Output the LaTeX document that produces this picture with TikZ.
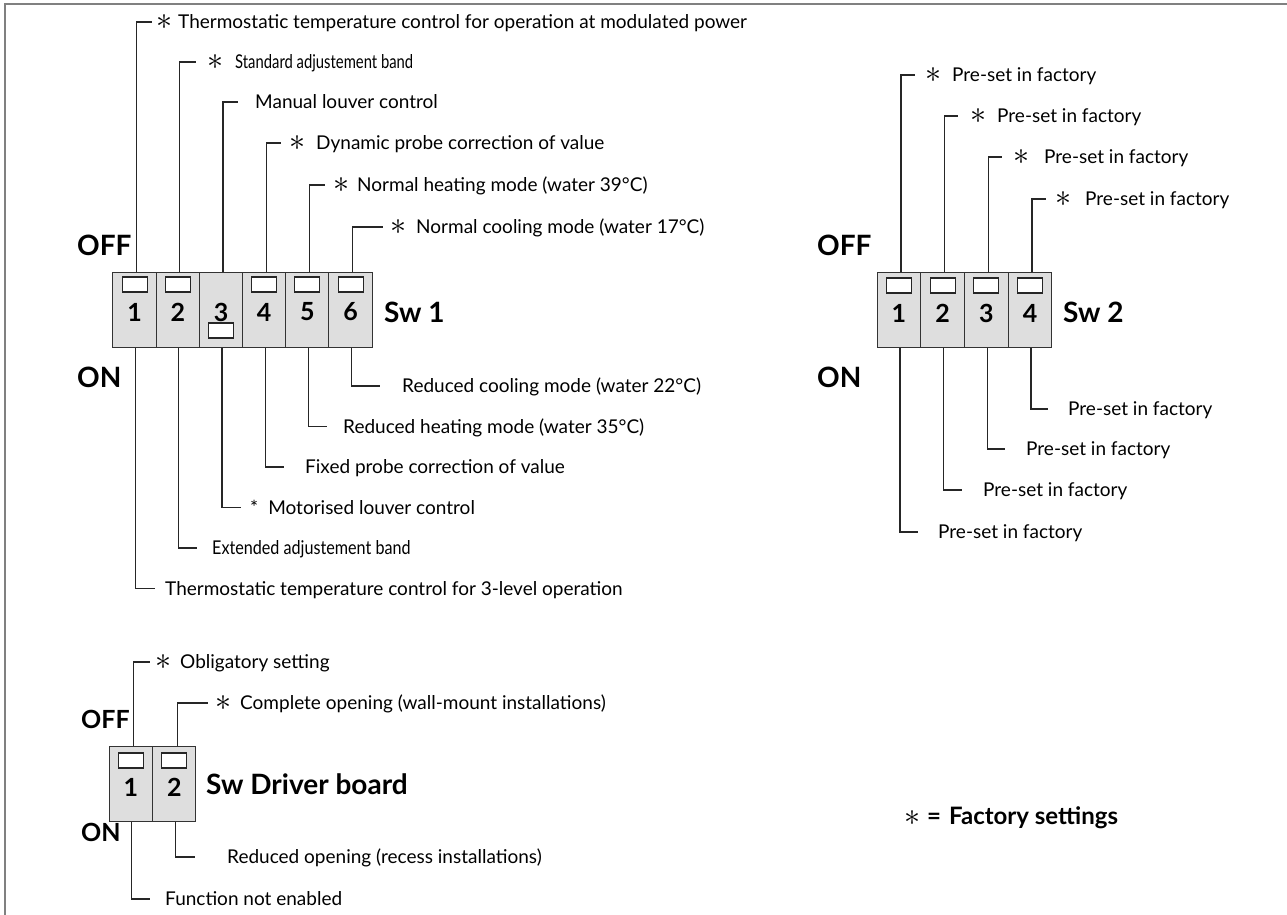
\documentclass[tikz,border=0pt]{standalone}
\usepackage{fontspec}
\usepackage{graphicx}
\setmainfont{Lato}
\usetikzlibrary{positioning}

% factory mark: space, star, space
\newcommand\fac[2]{\hspace{#1pt}\raisebox{-1pt}{\resizebox{16pt}{!}{$\ast$}}\hspace{#2pt}}

\begin{document}
\begin{tikzpicture}[x=1pt,y=-1pt,
    wire/.style={line width=1.3pt, black!85},
    cell/.style={draw=black!80, line width=1pt, fill=black!13, minimum width=43.4pt, minimum height=75pt, inner sep=0},
    lever/.style={draw=black!85, line width=1.1pt, fill=white, minimum width=25pt, minimum height=15pt, inner sep=0},
    num/.style={font=\fontsize{25}{25}\selectfont\bfseries, inner sep=0},
    lbl/.style={anchor=west, inner sep=0, text height=13.5pt, text depth=0pt, font=\fontsize{19}{21}\selectfont},
    head/.style={anchor=west, inner sep=0, font=\fontsize{28}{28}\selectfont\bfseries}]
    \useasboundingbox (0,0) rectangle (1287,915);
    \draw[black!50, line width=2pt] (5,915) -- (5,4) -- (1287,4);

    % Sw 1
    \foreach \i in {1,...,6} {
        \node[cell] (a\i) at ({113+43.2*(\i-0.5)},309.5) {};
        \node[num] (an\i) at ({113+43.2*(\i-0.5)},312) {\i};
    }
    \foreach \i in {1,2,4,5,6}
        \node[lever] (ak\i) at ({113+43.2*(\i-0.5)},284.5) {};
    \node[lever] (ak3) at (221,330.5) {};
    \node[head] (sw1) at (384,312) {Sw 1};
    \node[head] (off1) at (77,245) {OFF};
    \node[head] (on1) at (77,377) {ON};

    \node[lbl] (o1) at (152,22) {\fac{4}{6}Thermostatic temperature control for operation at modulated power};
    \node[lbl] (o2) at (196,62) {\fac{11}{12}\scalebox{0.78}[1]{Standard adjustement band}};
    \node[lbl] (o3) at (238,102) {\hspace{17pt}Manual louver control};
    \node[lbl] (o4) at (281,143) {\fac{8}{11}Dynamic probe correction of value};
    \node[lbl] (o5) at (325,185) {\fac{8}{8}Normal heating mode (water 39°C)};
    \node[lbl] (o6) at (383,227) {\fac{7}{10}Normal cooling mode (water 17°C)};
    \foreach \i in {1,...,6}
        \draw[wire] ([xshift=2pt]a\i.north) |- (o\i.west);

    \node[lbl] (u6) at (380,386) {\hspace{22pt}Reduced cooling mode (water 22°C)};
    \node[lbl] (u5) at (327,426.5) {\hspace{16pt}Reduced heating mode (water 35°C)};
    \node[lbl] (u4) at (284,467) {\hspace{21pt}Fixed probe correction of value};
    \node[lbl] (u3) at (241,507.5) {\hspace{9pt}*\hspace{10pt}Motorised louver control};
    \node[lbl] (u2) at (197,548) {\hspace{15pt}\scalebox{0.85}[1]{Extended adjustement band}};
    \node[lbl] (u1) at (155,588.5) {\hspace{10pt}Thermostatic temperature control for 3-level operation};
    \foreach \i in {1,...,6}
        \draw[wire] ([xshift=1pt]a\i.south) |- (u\i.west);

    % Sw 2
    \foreach \i in {1,...,4} {
        \node[cell] (b\i) at ({877+43.75*(\i-0.5)},309.5) {};
        \node[num] (bn\i) at ({877+43.75*(\i-0.5)},313) {\i};
        \node[lever] (bk\i) at ({877+43.75*(\i-0.5)},285.5) {};
    }
    \node[head] (sw2) at (1063,312) {Sw 2};
    \node[head] (off2) at (817,245) {OFF};
    \node[head] (on2) at (817,377) {ON};

    \node[lbl] (p1) at (915,75) {\fac{10}{11}Pre-set in factory};
    \node[lbl] (p2) at (958,116) {\fac{12}{11}Pre-set in factory};
    \node[lbl] (p3) at (1002,157) {\fac{11}{15}Pre-set in factory};
    \node[lbl] (p4) at (1046,199) {\fac{9}{14}Pre-set in factory};
    \foreach \i in {1,...,4}
        \draw[wire] ([xshift=2pt]b\i.north) |- (p\i.west);

    \node[lbl] (q4) at (1048,409) {\hspace{20pt}Pre-set in factory};
    \node[lbl] (q3) at (1005,449) {\hspace{21pt}Pre-set in factory};
    \node[lbl] (q2) at (962,490) {\hspace{21pt}Pre-set in factory};
    \node[lbl] (q1) at (918,532) {\hspace{20pt}Pre-set in factory};
    \foreach \i in {1,...,4}
        \draw[wire] ([xshift=1pt]b\i.south) |- (q\i.west);

    % Sw Driver board
    \foreach \i in {1,2} {
        \node[cell] (d\i) at ({109+43.5*(\i-0.5)},783.5) {};
        \node[num] (dn\i) at ({109+43.5*(\i-0.5)},787) {\i};
        \node[lever] (dk\i) at ({109+43.5*(\i-0.5)},760.5) {};
    }
    \node[head] (swd) at (206,784) {Sw Driver board};
    \node[head, font=\fontsize{25}{25}\selectfont\bfseries] (off3) at (81,719) {OFF};
    \node[head, font=\fontsize{25}{25}\selectfont\bfseries] (on3) at (81,832) {ON};

    \node[lbl] (r1) at (150,662) {\fac{5}{9}Obligatory setting};
    \node[lbl] (r2) at (208,703) {\fac{7}{9}Complete opening (wall-mount installations)};
    \node[lbl] (s2) at (195,857) {\hspace{32pt}Reduced opening (recess installations)};
    \node[lbl] (s1) at (150,899) {\hspace{15pt}Function not enabled};
    \foreach \i in {1,2} {
        \draw[wire] ([xshift=3pt]d\i.north) |- (r\i.west);
        \draw[wire] ([xshift=1pt]d\i.south) |- (s\i.west);
    }

    % legend
    \node[lbl, font=\fontsize{24}{26}\selectfont\bfseries] (leg) at (901,818) {\fac{3}{7}=\hspace{8pt}Factory settings};
\end{tikzpicture}
\end{document}
